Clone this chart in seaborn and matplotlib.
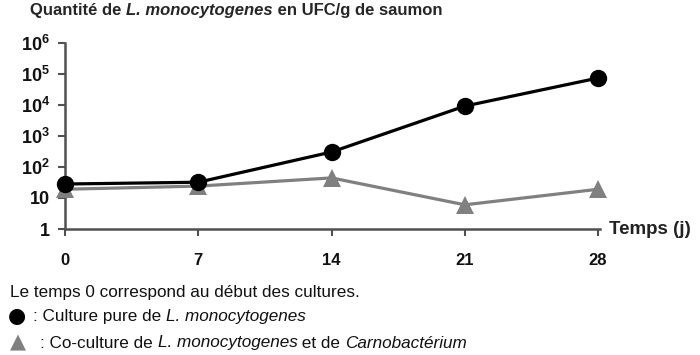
import matplotlib
matplotlib.use("Agg")
import matplotlib.pyplot as plt
import seaborn as sns
import pandas as pd
import numpy as np

days = [0, 7, 14, 21, 28]
pure = [28, 32, 300, 9000, 72000]
cocult = [19, 24, 44, 6, 19]
yticks = [1, 10, 100, 1000, 10000, 100000, 1000000]
ytick_labels = ["1", "10", r"$\mathbf{10^{2}}$", r"$\mathbf{10^{3}}$", r"$\mathbf{10^{4}}$",
                r"$\mathbf{10^{5}}$", r"$\mathbf{10^{6}}$"]
series_names = ["pure", "co"]

sns.set_style("white")
plt.rcParams['font.family'] = ['Liberation Sans', 'DejaVu Sans']
plt.rcParams['mathtext.fontset'] = 'custom'
plt.rcParams['mathtext.rm'] = 'Liberation Sans'
plt.rcParams['mathtext.bf'] = 'Liberation Sans:bold'
plt.rcParams['mathtext.it'] = 'Liberation Sans:italic'

df = pd.DataFrame({
    "jour": days * 2,
    "ufc": pure + cocult,
    "serie": [series_names[0]] * len(days) + [series_names[1]] * len(days),
})

fig = plt.figure(figsize=(7, 3.55), dpi=100)
ax = fig.add_axes([65 / 700, 1 - 229 / 355, (600 - 65) / 700, (229 - 42.5) / 355])

sns.lineplot(data=df, x="jour", y="ufc", hue="serie", style="serie",
             palette={"pure": "black", "co": "#808080"},
             markers={"pure": "o", "co": "^"}, dashes=False,
             markersize=12.5, markeredgewidth=0, linewidth=2.3,
             legend=False, ax=ax)
for ln in ax.lines:
    if ln.get_color() in ("black", "k"):
        ln.set_zorder(4)
    else:
        ln.set_zorder(3)
    ln.set_clip_on(False)

ax.set_yscale("log")
ax.set_ylim(1, 1e6)
ax.set_xlim(0, 28.1)
ax.set_yticks(yticks)
ax.set_yticklabels(ytick_labels, fontsize=13, fontweight="bold", color="#111111")
ax.minorticks_off()
ax.set_xticks(days)
ax.set_xticklabels([str(d) for d in days], fontsize=12, fontweight="bold", color="#111111")
ax.tick_params(axis="both", which="major", direction="out", length=5, width=1.5,
               color="#505050", left=True, bottom=True)
ax.tick_params(axis="y", pad=6)
ax.tick_params(axis="x", pad=12)
for s in ["top", "right"]:
    ax.spines[s].set_visible(False)
for s in ["left", "bottom"]:
    ax.spines[s].set_color("#505050")
    ax.spines[s].set_linewidth(1.8)
ax.set_xlabel("")
ax.set_ylabel("")
ax.set_facecolor("none")
ax.text(1.016, 0.0, "Temps (j)", transform=ax.transAxes, ha="left", va="center",
        fontsize=13.5, fontweight="bold", color="#222222")

# Title
t1 = fig.text(30 / 700, 1 - 11 / 355, "Quantité de ", fontsize=12, fontweight="bold", va="center")
t2 = fig.text(0, 0, "L. monocytogenes", fontsize=12, fontweight="bold", style="italic", va="center")
t3 = fig.text(0, 0, " en UFC/g de saumon", fontsize=12, fontweight="bold", va="center")

fs = 12.3
c0 = fig.text(10 / 700, 1 - 293 / 355, "Le temps 0 correspond au début des cultures.", fontsize=fs, va="center", color="#111111")
m1 = fig.text(8 / 700, 1 - 316 / 355, "●", fontsize=15, va="center", family="DejaVu Sans", color="black")
a1 = fig.text(33 / 700, 1 - 317 / 355, ": Culture pure de ", fontsize=fs, va="center", color="#111111")
a2 = fig.text(0, 0, "L. monocytogenes", fontsize=fs, va="center", style="italic", color="#111111")
m2 = fig.text(10 / 700, 1 - 342 / 355, "▲", fontsize=15, va="center", family="DejaVu Sans", color="#808080")
b1 = fig.text(40 / 700, 1 - 343 / 355, ": Co-culture de ", fontsize=fs, va="center", color="#111111")
b2 = fig.text(0, 0, "L. monocytogenes", fontsize=fs, va="center", style="italic", color="#111111")
b3 = fig.text(0, 0, " et de ", fontsize=fs, va="center", color="#111111")
b4 = fig.text(0, 0, "Carnobactérium", fontsize=fs, va="center", style="italic", color="#111111")

fig.canvas.draw()
r = fig.canvas.get_renderer()

def chain(prev, nxt):
    bb = prev.get_window_extent(renderer=r)
    x = bb.x1 / fig.bbox.width
    y = prev.get_position()[1]
    nxt.set_position((x, y))

chain(t1, t2); fig.canvas.draw(); chain(t2, t3)
chain(a1, a2)
chain(b1, b2); fig.canvas.draw(); chain(b2, b3); fig.canvas.draw(); chain(b3, b4)

fig.savefig("out.png", dpi=100, facecolor="white")
